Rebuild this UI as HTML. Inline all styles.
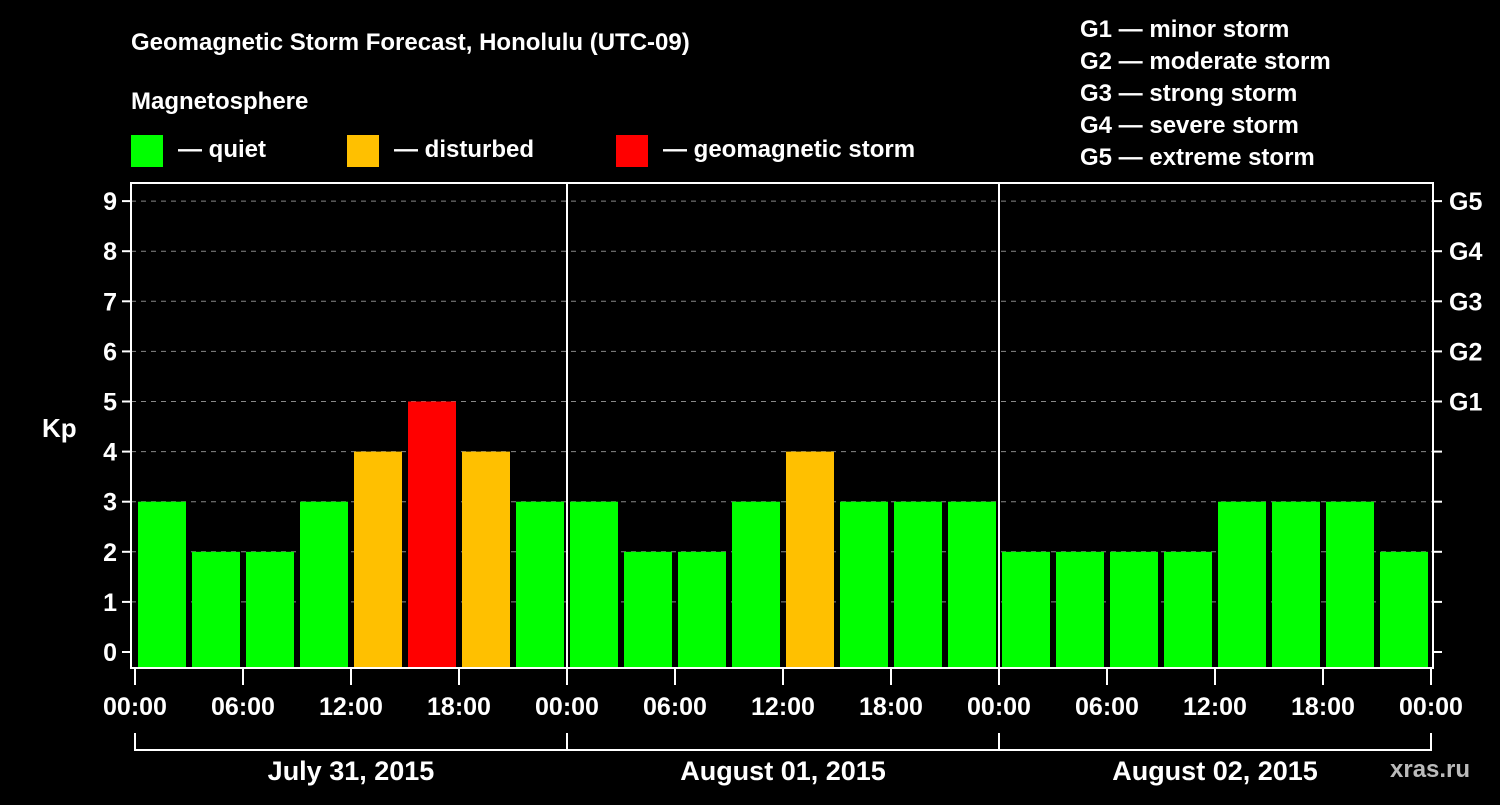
<!DOCTYPE html>
<html><head><meta charset="utf-8"><style>
body{margin:0;background:#000;}
svg text{font-family:"Liberation Sans",Arial,sans-serif;font-weight:bold;fill:#fff;}
</style></head><body>
<svg id="c" width="1500" height="800" xmlns="http://www.w3.org/2000/svg">
<rect width="1500" height="800" fill="#000"/>
<text x="131" y="50" font-size="24">Geomagnetic Storm Forecast, Honolulu (UTC-09)</text>
<text x="131" y="109" font-size="24">Magnetosphere</text>
<g><rect x="131" y="135" width="32" height="32" fill="#00ff00"/><text x="178" y="157" font-size="24">— quiet</text></g>
<g><rect x="347" y="135" width="32" height="32" fill="#ffc000"/><text x="394" y="157" font-size="24">— disturbed</text></g>
<g><rect x="616" y="135" width="32" height="32" fill="#ff0000"/><text x="663" y="157" font-size="24">— geomagnetic storm</text></g>
<g font-size="24">
<text x="1080" y="37">G1 — minor storm</text>
<text x="1080" y="69">G2 — moderate storm</text>
<text x="1080" y="101">G3 — strong storm</text>
<text x="1080" y="133">G4 — severe storm</text>
<text x="1080" y="165">G5 — extreme storm</text>
</g>
<text x="42" y="437" font-size="26">Kp</text>
<text x="1390" y="777" font-size="24" fill="#bbb" style="fill:#bbb">xras.ru</text>
<g id="plot"></g>
</svg>
<script>
const values=[3,2,2,3,4,5,4,3, 3,2,2,3,4,3,3,3, 2,2,2,2,3,3,3,2];
const yTicks=[0,1,2,3,4,5,6,7,8,9];
const gLabels=["G1","G2","G3","G4","G5"];
const xLabels=["00:00","06:00","12:00","18:00","00:00","06:00","12:00","18:00","00:00","06:00","12:00","18:00","00:00"];
const dayLabels=["July 31, 2015","August 01, 2015","August 02, 2015"];
const NS="http://www.w3.org/2000/svg";
const g=document.getElementById('plot');
const X0=135,SLOT=54,L=131,R=1433,T=183,B=668;
const y=v=>652-v*50.1;
const x=i=>X0+i*SLOT;
function mk(t,a,p){const e=document.createElementNS(NS,t);for(const k in a)e.setAttribute(k,a[k]);(p||g).appendChild(e);return e;}
function color(v){return v>=5?'#ff0000':(v>=4?'#ffc000':'#00ff00');}
yTicks.forEach(v=>{
 if(v>0){const gl=mk('line',{x1:L,x2:R,y1:y(v),y2:y(v),stroke:'#888','stroke-width':1,'stroke-dasharray':'5,5'});
 
 }
 const t=mk('line',{x1:122,x2:L,y1:y(v),y2:y(v),stroke:'#fff','stroke-width':2});
 
 
 const t2=mk('line',{x1:R,x2:1442,y1:y(v),y2:y(v),stroke:'#fff','stroke-width':2});
 
 
 const lb=mk('text',{x:117,y:y(v)+9,'font-size':25,'text-anchor':'end'});lb.textContent=v;
 
 
});
gLabels.forEach((s,i)=>{
 const lb=mk('text',{x:1449,y:y(5+i)+9,'font-size':25});lb.textContent=s;
 
 
});
values.forEach((v,i)=>{
 const r=mk('rect',{x:x(i)+3,y:y(v),width:48,height:B-y(v),fill:color(v)});
 
 
});
const fr=mk('rect',{x:L,y:T,width:R-L,height:B-T,fill:'none',stroke:'#fff','stroke-width':2});


[1,2].forEach(d=>{const l=mk('line',{x1:x(d*8),x2:x(d*8),y1:T,y2:B,stroke:'#fff','stroke-width':2});
 
 });
xLabels.forEach((s,i)=>{
 const xx=x(i*2);
 const t=mk('line',{x1:xx,x2:xx,y1:B,y2:685,stroke:'#fff','stroke-width':2});
 
 
 const lb=mk('text',{x:xx,y:715,'font-size':25,'text-anchor':'middle'});lb.textContent=s;
 
 
});
const br=mk('line',{x1:x(0),x2:x(24),y1:750,y2:750,stroke:'#fff','stroke-width':2});


[0,8,16,24].forEach(i=>{const l=mk('line',{x1:x(i),x2:x(i),y1:733,y2:751,stroke:'#fff','stroke-width':2});
 
 });
dayLabels.forEach((s,d)=>{
 const lb=mk('text',{x:x(d*8+4),y:780,'font-size':27,'text-anchor':'middle'});lb.textContent=s;
 
 
});
</script>
</body></html>
